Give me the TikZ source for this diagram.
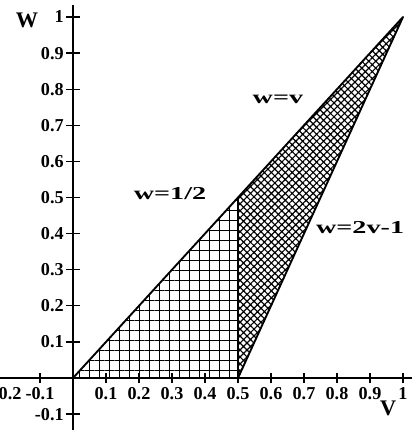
\documentclass[tikz,border=0pt]{standalone}
\usepackage{fontspec}
\setmainfont{Liberation Serif}
\usetikzlibrary{patterns, patterns.meta, positioning}

\begin{document}
\begin{tikzpicture}[x=9.9cm, y=10.83cm, font=\fontsize{15.5}{15.5}\selectfont\bfseries,
		eixo/.style={line width=2.2pt},
		traco/.style={line width=1.1pt},
		borda/.style={line width=1.6pt, line join=round},
		rotulo/.style={inner sep=1pt}]
	\useasboundingbox (-0.2212,-0.1440) rectangle (1.0273,1.0471);
	% pontos do triangulo
	\coordinate (O) at (0,0);
	\coordinate (A) at (0.5,0);
	\coordinate (B) at (0.5,0.5);
	\coordinate (C) at (1,1);
	% regioes hachuradas
	\fill [pattern={Hatch[angle=0, distance=8.5pt, line width=0.9pt]}] (O) -- (A) -- (B) -- cycle;
	\fill [pattern={Hatch[angle=45, distance=4.2pt, line width=1pt]}] (A) -- (C) -- (B) -- cycle;
	% eixos
	\coordinate (xmin) at (-0.2212,0);
	\coordinate (xmax) at (1.0273,0);
	\coordinate (ymin) at (0,-0.1440);
	\coordinate (ymax) at (0,1.033);
	\draw [eixo] (xmin) -- (xmax);
	\draw [eixo] (ymin) -- (ymax);
	% marcas e valores
	\foreach \x in {-0.1,0.1,0.2,0.3,0.4,0.5,0.6,0.7,0.8,0.9,1} {
		\draw [traco] (\x,-0.014) -- (\x,0.014);
		\node [rotulo, anchor=north] at (\x,-0.022) {\x};
	}
	\node [rotulo, anchor=north] at (-0.2,-0.022) {-0.2};
	\foreach \y in {-0.1,0.1,0.2,0.3,0.4,0.5,0.6,0.7,0.8,0.9,1} {
		\draw [traco] (-0.022,\y) -- (0.022,\y);
		\node [rotulo, anchor=east] at (-0.024,\y) {\y};
	}
	% retas
	\draw [borda] (O) -- (C) -- (A) -- (B);
	% nomes
	\node (nw) at (-0.139,0.992) {\fontsize{19}{19}\selectfont W};
	\node (nv) at (0.955,-0.083) {\fontsize{19}{19}\selectfont V};
	\node (lwv) at (0.621,0.773) {\scalebox{1.55}[1]{w=v}};
	\node (lmeio) at (0.294,0.512) {\scalebox{1.55}[1]{w=1/2}};
	\node (lreta) at (0.870,0.416) {\scalebox{1.55}[1]{w=2v-1}};
\end{tikzpicture}
\end{document}
